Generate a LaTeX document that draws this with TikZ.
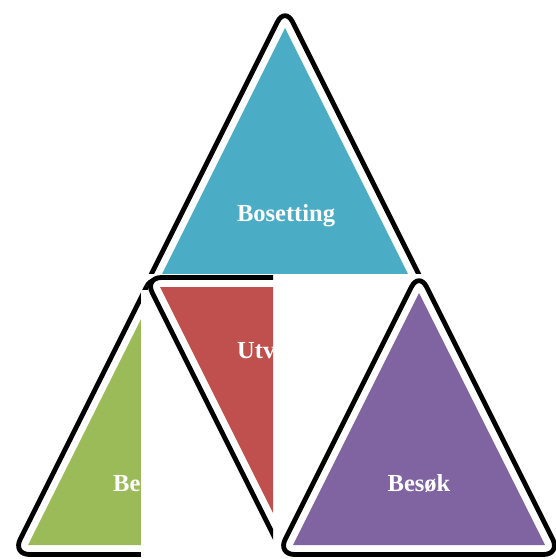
\documentclass[tikz,border=0pt]{standalone}
\usepackage{fontspec}
\setmainfont{Liberation Serif}
\definecolor{cblue}{HTML}{4BACC6}
\definecolor{cgreen}{HTML}{9BBB59}
\definecolor{cred}{HTML}{C0504D}
\definecolor{cpurple}{HTML}{8064A2}
\tikzset{
  rim/.style={fill=white, draw=black, line width=4.8pt, rounded corners=17pt},
  face/.style={draw=none},
  lbl/.style={text=white, font=\fontsize{24.5}{28}\selectfont\bfseries, inner sep=0pt}
}
\begin{document}
\begin{tikzpicture}[x=1pt,y=-1pt]
\useasboundingbox (0,0) rectangle (556,559);
\fill[white] (0,0) rectangle (556,559);
% top (blue)
\begin{scope}
  \clip (0,0) rectangle (556,273);
  \path[rim] (285,6.8) -- (143.6,289.5) -- (426.4,289.5) -- cycle;
  \path[face, fill=cblue] (285,28) -- (159,280) -- (411,280) -- cycle;
  \node[lbl] (t1) at (286,216) {Bosetting};
\end{scope}
% left (green)
\begin{scope}
  \clip (0,0) rectangle (141,559) (0,273) rectangle (220,290);
  \path[rim] (154,271.8) -- (12.6,554.5) -- (295.4,554.5) -- cycle;
  \path[face, fill=cgreen] (154,293) -- (28,545) -- (280,545) -- cycle;
  \node[lbl, anchor=west] (t2) at (113,484) {Be};
\end{scope}
% right (purple)
\path[rim] (419,271.8) -- (277.6,554.5) -- (560.4,554.5) -- cycle;
\path[face, fill=cpurple] (419,293) -- (293,545) -- (545,545) -- cycle;
\node[lbl] (t4) at (419,483) {Besøk};
% middle (red)
\fill[white] (141,290) rectangle (273,559);
\begin{scope}
  \clip (141,273) rectangle (273,559);
  \path[rim] (144.6,277.5) -- (425.4,277.5) -- (285,558.2) -- cycle;
  \path[face, fill=cred] (160,287) -- (410,287) -- (285,537) -- cycle;
  \node[lbl, anchor=west] (t3) at (237,351) {Utv};
\end{scope}
\end{tikzpicture}
\end{document}
